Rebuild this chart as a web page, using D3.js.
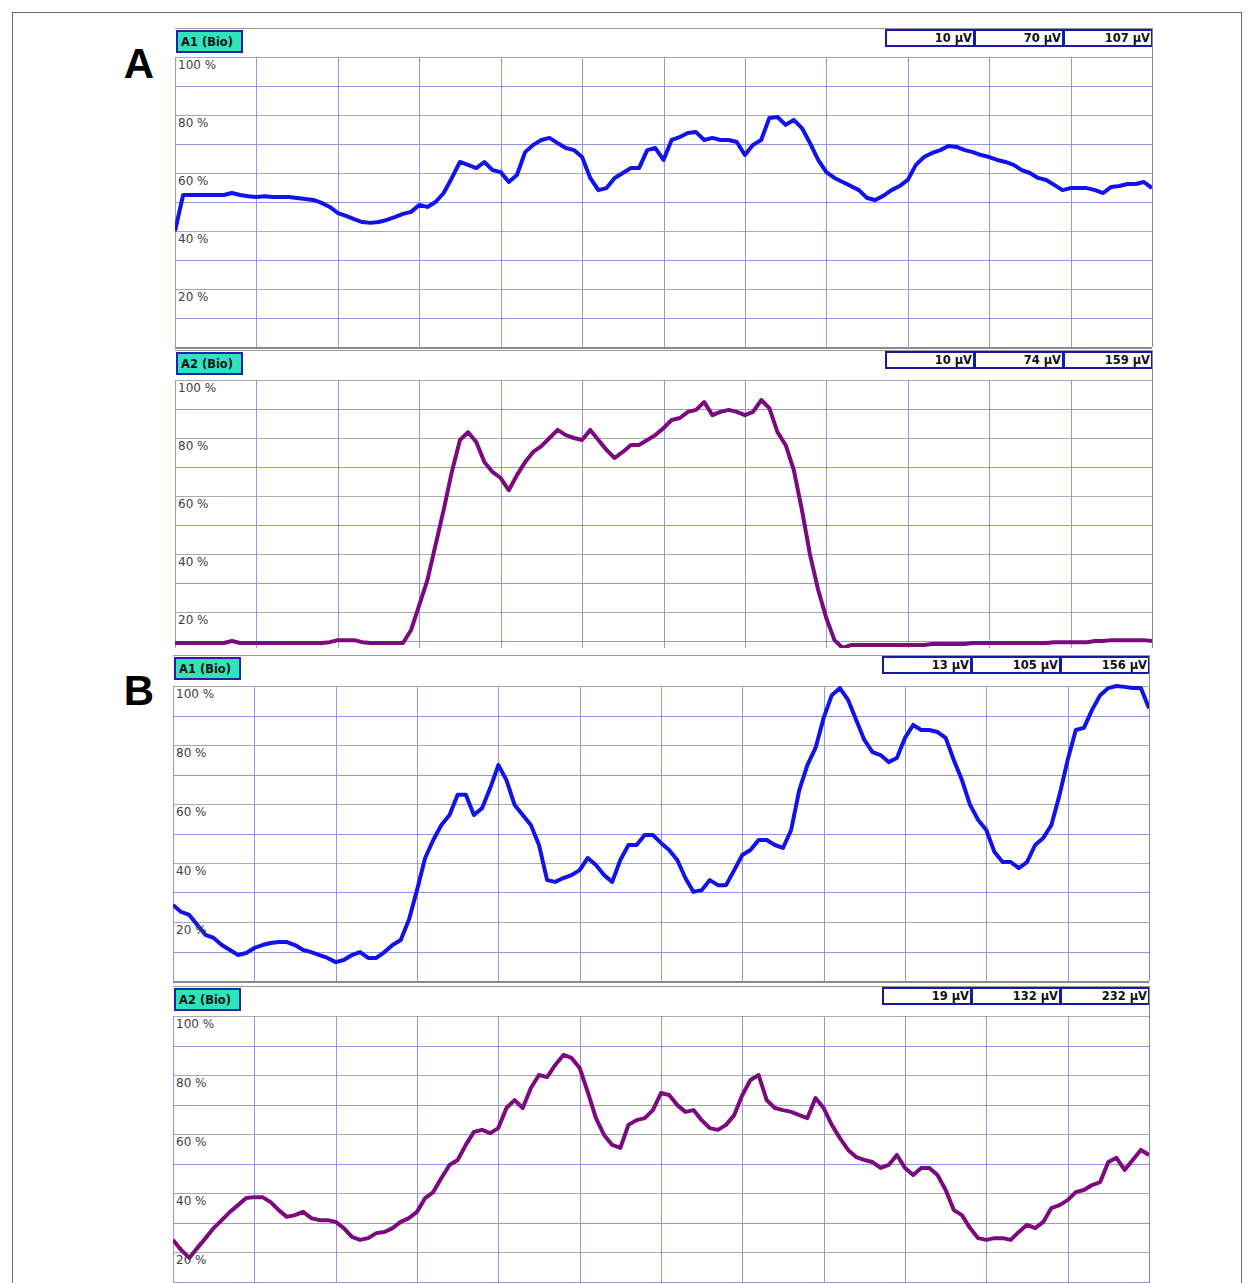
<!DOCTYPE html>
<html lang="en">
<head>
    <meta charset="UTF-8">
    <title>EMG amplitude traces</title>
    <script src="https://cdn.jsdelivr.net/npm/d3@7/dist/d3.min.js"></script>
    <style>
        body { margin: 0; background: #fff; }
        text { font-family: "DejaVu Sans", sans-serif; }
    </style>
</head>
<body>
<svg id="main" width="1253" height="1283"></svg>
<script>
    // amplitude in % of max, one sample per 1/10 grid division (121 samples)
    const a1 = [40, 52.4, 52.4, 52.4, 52.4, 52.4, 52.4, 53.1, 52.4, 52, 51.7, 52, 51.7, 51.7, 51.7, 51.4, 51, 50.7, 49.7, 48.3,
        46.2, 45.2, 44.1, 43.1, 42.8, 43.1, 43.8, 44.8, 45.9, 46.6, 49, 48.3, 50, 53.1, 58.3, 63.8, 62.8, 61.7, 63.8, 61,
        60.3, 56.9, 59.3, 67.2, 69.7, 71.4, 72.1, 70.3, 68.6, 67.9, 65.5, 58.3, 54.1, 54.8, 58.3, 60, 61.7, 61.7, 67.9, 68.6,
        64.5, 71.4, 72.4, 73.8, 74.1, 71.4, 72.1, 71.4, 71.4, 70.7, 66.2, 69.7, 71.4, 79, 79.3, 76.6, 78.3, 75.5, 70.3, 64.5,
        60.3, 58.3, 56.9, 55.5, 54.1, 51.4, 50.7, 52.1, 54.1, 55.5, 57.6, 62.8, 65.5, 66.9, 67.9, 69.3, 69, 67.9, 67.2, 66.2,
        65.5, 64.5, 63.8, 62.8, 61, 60, 58.3, 57.6, 55.9, 54.1, 54.8, 54.8, 54.8, 54.1, 53.1, 55.2, 55.5, 56.2, 56.2, 56.9, 54.8];

    const a2 = [9.3, 9.3, 9.3, 9.3, 9.3, 9.3, 9.3, 10, 9.3, 9.3, 9.3, 9.3, 9.3, 9.3, 9.3, 9.3, 9.3, 9.3, 9.3, 9.6,
        10.3, 10.3, 10.3, 9.6, 9.3, 9.3, 9.3, 9.3, 9.3, 13.8, 22.4, 31, 43.1, 55.2, 68.3, 79.3, 82, 78.6, 71.7, 68.3,
        66.2, 62, 67.2, 71.7, 75.2, 77.2, 80, 82.8, 81, 80, 79.3, 82.8, 79.3, 75.9, 73.1, 75.2, 77.6, 77.6, 79.3, 81,
        83.4, 86.2, 86.9, 89, 89.7, 92.4, 87.9, 89, 89.7, 89, 87.9, 89, 93.1, 90.3, 82, 77.6, 69, 55.2, 39.7, 27.6,
        17.9, 10.3, 7.6, 8.6, 8.6, 8.6, 8.6, 8.6, 8.6, 8.6, 8.6, 8.6, 8.6, 9, 9, 9, 9, 9, 9.3, 9.3,
        9.3, 9.3, 9.3, 9.3, 9.3, 9.3, 9.3, 9.3, 9.6, 9.6, 9.6, 9.6, 9.6, 10, 10, 10.3, 10.3, 10.3, 10.3, 10.3, 10];

    const b1 = [25.8, 23.4, 22.4, 19, 15.6, 14.6, 12.2, 10.5, 8.8, 9.5, 11.2, 12.2, 12.9, 13.2, 13.2, 12.2, 10.5, 9.8, 8.8, 7.8,
        6.4, 7.1, 8.8, 9.8, 7.8, 7.8, 9.8, 12.2, 13.9, 20.7, 30.8, 41.7, 47.8, 52.9, 56.3, 63.1, 63.1, 56.3, 58.6, 65.4,
        73.2, 68.1, 59.7, 56.3, 52.9, 46.1, 34.2, 33.6, 34.9, 35.9, 37.6, 41.7, 39.3, 35.9, 33.6, 41, 46.1, 46.1, 49.5, 49.5,
        46.8, 44.4, 41, 34.9, 30.2, 30.8, 34.2, 32.5, 32.5, 37.6, 42.7, 44.4, 47.8, 47.8, 46.1, 45.1, 51.2, 64.7, 73.2, 79,
        89.2, 96.9, 99.3, 95.3, 88.5, 81.7, 77.6, 76.6, 74.2, 75.6, 82.4, 86.8, 85.1, 85.1, 84.4, 82.4, 74.9, 68.1, 59.7, 54.6,
        51.2, 43.7, 40.3, 40.3, 38.3, 40.3, 46.1, 48.5, 52.9, 63.1, 74.9, 85.1, 85.8, 91.9, 96.9, 99.3, 100, 99.7, 99.3, 99.3, 92.5];

    const b2 = [24.1, 20.7, 18, 21.4, 24.7, 28.1, 30.8, 33.6, 35.9, 38.3, 38.6, 38.6, 36.9, 34.2, 31.9, 32.5, 33.6, 31.5, 30.8, 30.8,
        30.2, 28.1, 25.1, 24.1, 24.7, 26.4, 26.8, 28.1, 30.2, 31.5, 33.6, 38.3, 40.3, 45.1, 49.5, 51.2, 56.3, 60.7, 61.4, 60.3,
        62, 68.8, 71.5, 68.8, 75.6, 80, 79.3, 83.4, 86.8, 85.8, 82.4, 74.2, 65.4, 59.7, 56.3, 55.3, 63.1, 64.7, 65.4, 68.1,
        73.9, 73.2, 69.8, 67.5, 68.1, 64.7, 62, 61.4, 63.1, 66.4, 73.2, 78.3, 80, 71.5, 68.8, 68.1, 67.5, 66.4, 65.4, 72.2,
        68.8, 63.1, 58.6, 54.6, 52.2, 51.2, 50.5, 48.5, 49.5, 52.9, 48.5, 46.1, 48.5, 48.5, 46.1, 41, 34.2, 32.5, 28.1, 24.7,
        24.1, 24.7, 24.7, 24.1, 26.8, 29.2, 28.1, 30.2, 34.9, 35.9, 37.6, 40.3, 41, 42.7, 43.7, 50.5, 51.9, 47.8, 51.2, 54.6, 52.9];

    const channels = ['A1 (Bio)', 'A2 (Bio)', 'A1 (Bio)', 'A2 (Bio)'];
    const readouts = [
        ['10 µV', '70 µV', '107 µV'],
        ['10 µV', '74 µV', '159 µV'],
        ['13 µV', '105 µV', '156 µV'],
        ['19 µV', '132 µV', '232 µV']
    ];
    const yTicks = [100, 80, 60, 40, 20];
    const letters = ['A', null, 'B', null];

    const blue = '#1212ea', purple = '#7a0a7e';
    const gridBlue = '#9494e4', gridGray = '#a8a8b4';

    const panels = [
        {data: a1, color: blue,   left: 175, right: 1152, head: 28,  top: 57,   zero: 347,  bottom: 347},
        {data: a2, color: purple, left: 175, right: 1152, head: 350, top: 380,  zero: 670,  bottom: 648},
        {data: b1, color: blue,   left: 173, right: 1149, head: 655, top: 686,  zero: 981,  bottom: 981},
        {data: b2, color: purple, left: 173, right: 1149, head: 986, top: 1016, zero: 1311, bottom: 1283}
    ];

    let svg = d3.select('svg#main');

    // outer frame
    svg.append('rect')
        .attr('x', 12.5).attr('y', 12.5)
        .attr('width', 1229).attr('height', 1300)
        .attr('fill', 'none').attr('stroke', '#6a6a6a');

    panels.forEach(function(p, i) {
        let g = svg.append('g');
        let xScale = d3.scaleLinear().domain([0, 120]).range([p.left, p.right]);
        let yScale = d3.scaleLinear().domain([0, 100]).range([p.zero, p.top]);

        // header strip
        g.append('line')
            .attr('x1', p.left).attr('x2', p.right)
            .attr('y1', p.head + 0.5).attr('y2', p.head + 0.5)
            .attr('stroke', '#9a9a9a');

        // channel tag
        g.append('rect')
            .attr('x', p.left + 2).attr('y', p.head + 3)
            .attr('width', 65).attr('height', 21)
            .attr('fill', '#2de4bd')
            .attr('stroke', '#2222a8').attr('stroke-width', 2);
        g.append('text')
            .attr('x', p.left + 6).attr('y', p.head + 18)
            .attr('font-size', 11.5).attr('font-weight', 'bold')
            .attr('fill', '#111')
            .text(channels[i]);

        // readout boxes
        readouts[i].forEach(function(r, j) {
            let bx = p.right - 266 + j * 89;
            g.append('rect')
                .attr('x', bx).attr('y', p.head + 2)
                .attr('width', 88).attr('height', 16)
                .attr('fill', '#fff')
                .attr('stroke', '#1a1aa0').attr('stroke-width', 2);
            g.append('text')
                .attr('x', bx + 86).attr('y', p.head + 14)
                .attr('text-anchor', 'end')
                .attr('font-size', 11.5).attr('font-weight', 'bold')
                .attr('fill', '#111')
                .text(r);
        });

        // grid
        let clipId = 'clip' + i;
        g.append('clipPath').attr('id', clipId)
            .append('rect')
            .attr('x', p.left).attr('y', p.top - 2)
            .attr('width', p.right - p.left).attr('height', p.bottom - p.top + 2);

        let grid = g.append('g').attr('clip-path', 'url(#' + clipId + ')');
        grid.selectAll('line.h')
            .data(d3.range(10, 101, 10))
            .enter().append('line')
            .attr('class', 'h')
            .attr('x1', p.left).attr('x2', p.right)
            .attr('y1', d => Math.round(yScale(d)) + 0.5)
            .attr('y2', d => Math.round(yScale(d)) + 0.5)
            .attr('stroke', d => (d % 20 === 0) ? gridGray : gridBlue);
        grid.selectAll('line.v')
            .data(d3.range(0, 120, 10))
            .enter().append('line')
            .attr('class', 'v')
            .attr('x1', d => Math.round(xScale(d)) + 0.5)
            .attr('x2', d => Math.round(xScale(d)) + 0.5)
            .attr('y1', p.top).attr('y2', p.bottom)
            .attr('stroke', gridBlue);

        // tick labels
        g.selectAll('text.tick')
            .data(yTicks)
            .enter().append('text')
            .attr('class', 'tick')
            .attr('x', p.left + 3)
            .attr('y', d => yScale(d) + 12)
            .attr('font-size', 12)
            .attr('fill', '#404040')
            .text(d => d + ' %');

        // trace
        let line = d3.line()
            .x((d, k) => xScale(k))
            .y(d => yScale(d));
        grid.append('path')
            .datum(p.data)
            .attr('d', line)
            .attr('fill', 'none')
            .attr('stroke', p.color)
            .attr('stroke-width', 4)
            .attr('stroke-linejoin', 'round');

        // borders
        g.append('line')
            .attr('x1', p.right + 0.5).attr('x2', p.right + 0.5)
            .attr('y1', p.head).attr('y2', p.bottom)
            .attr('stroke', '#8a8a8a');
        if (p.bottom === p.zero) {
            g.append('line')
                .attr('x1', p.left).attr('x2', p.right)
                .attr('y1', p.bottom + 1).attr('y2', p.bottom + 1)
                .attr('stroke', '#8a8a8a').attr('stroke-width', 2);
        }

        if (letters[i]) {
            svg.append('text')
                .attr('x', 139).attr('y', p.head + 50)
                .attr('text-anchor', 'middle')
                .style('font-family', '"Liberation Sans", Arial, sans-serif')
                .attr('font-size', 42).attr('font-weight', 'bold')
                .text(letters[i]);
        }
    });
</script>
</body>
</html>
